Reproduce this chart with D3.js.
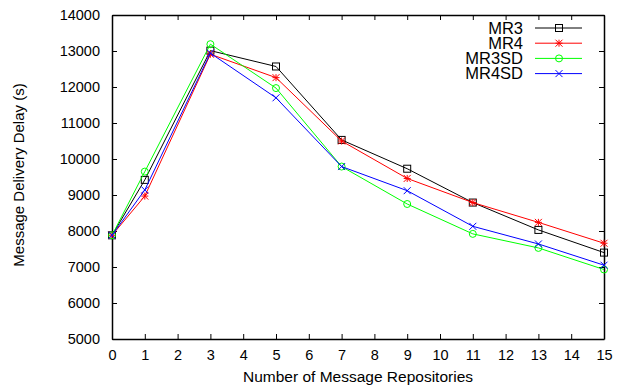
<!DOCTYPE html>
<html>
<head>
<meta charset="utf-8">
<script src="https://cdn.jsdelivr.net/npm/d3@7"></script>
<style>
  body { margin: 0; background: #fff; }
  text { font-family: "Liberation Sans", Arial, sans-serif; fill: #000; }
</style>
</head>
<body>
<div id="chart"></div>
<script>
// Data
const repositories = [0, 1, 3, 5, 7, 9, 11, 13, 15]
const mr3   = [7880, 9420, 13010, 12570, 10530, 9730, 8790, 8030, 7400]
const mr4   = [7880, 8970, 12910, 12260, 10500, 9460, 8790, 8240, 7660]
const mr3sd = [7880, 9650, 13190, 11970, 9790, 8750, 7920, 7530, 6930]
const mr4sd = [7880, 9140, 12940, 11700, 9790, 9120, 8130, 7640, 7050]
const xTicks = d3.range(0, 16)
const yTicks = d3.range(5000, 14001, 1000)

const seriesNames = ["MR3", "MR4", "MR3SD", "MR4SD"]
const seriesValues = [mr3, mr4, mr3sd, mr4sd]
const seriesColors = ["#000000", "#ff0000", "#00ff00", "#0000ff"]
const seriesMarks = ["square", "star", "circle", "cross"]

const width = 617, height = 389
const margin = { left: 112, right: 13, top: 15, bottom: 50 }

const svg = d3.select("#chart").append("svg")
  .attr("width", width).attr("height", height)

const xScale = d3.scaleLinear().domain([0, 15]).range([margin.left, width - margin.right])
const yScale = d3.scaleLinear().domain([5000, 14000]).range([height - margin.bottom, margin.top])

// Axes with inward ticks, mirrored on top and right
const tickLen = 5
svg.append("g")
  .attr("transform", `translate(0,${yScale(5000)})`)
  .call(d3.axisBottom(xScale).tickValues(xTicks).tickSizeInner(-tickLen).tickSizeOuter(0).tickPadding(11))
svg.append("g")
  .attr("transform", `translate(0,${yScale(14000)})`)
  .call(d3.axisTop(xScale).tickValues(xTicks).tickSizeInner(-tickLen).tickSizeOuter(0).tickFormat(""))
svg.append("g")
  .attr("transform", `translate(${xScale(0)},0)`)
  .call(d3.axisLeft(yScale).tickValues(yTicks).tickFormat(d3.format("d")).tickSizeInner(-tickLen).tickSizeOuter(0).tickPadding(12))
svg.append("g")
  .attr("transform", `translate(${xScale(15)},0)`)
  .call(d3.axisRight(yScale).tickValues(yTicks).tickSizeInner(-tickLen).tickSizeOuter(0).tickFormat(""))

svg.selectAll(".domain").attr("stroke", "#000").attr("stroke-width", 1.5)
svg.selectAll(".tick line").attr("stroke", "#000")
svg.selectAll(".tick text").attr("font-size", 14.5).attr("font-family", "Liberation Sans, Arial, sans-serif")

// Markers
function drawMark(g, kind, x, y, color) {
  const s = 3.5
  if (kind == "square") {
    g.append("rect").attr("x", x - s).attr("y", y - s).attr("width", 2 * s).attr("height", 2 * s)
      .attr("fill", "none").attr("stroke", color)
  } else if (kind == "circle") {
    g.append("circle").attr("cx", x).attr("cy", y).attr("r", s)
      .attr("fill", "none").attr("stroke", color)
  } else {
    let path = `M${x - s},${y - s}L${x + s},${y + s}M${x - s},${y + s}L${x + s},${y - s}`
    if (kind == "star") path += `M${x - s},${y}L${x + s},${y}M${x},${y - s}L${x},${y + s}`
    g.append("path").attr("d", path).attr("stroke", color).attr("fill", "none")
  }
}

const line = d3.line().x((d, i) => xScale(repositories[i])).y(d => yScale(d))

seriesValues.forEach((vals, k) => {
  const g = svg.append("g")
  g.append("path").datum(vals).attr("d", line)
    .attr("fill", "none").attr("stroke", seriesColors[k]).attr("stroke-width", 1)
  vals.forEach((v, i) => drawMark(g, seriesMarks[k], xScale(repositories[i]), yScale(v), seriesColors[k]))
})

// Legend
const legend = svg.append("g")
seriesNames.forEach((name, k) => {
  const y = 28 + k * 15.2
  legend.append("text").attr("x", 523).attr("y", y).attr("dy", "0.35em")
    .attr("text-anchor", "end").attr("font-size", 16.5).text(name)
  legend.append("line").attr("x1", 535).attr("x2", 582).attr("y1", y).attr("y2", y)
    .attr("stroke", seriesColors[k])
  drawMark(legend, seriesMarks[k], 559, y, seriesColors[k])
})

// Axis titles
svg.append("text").attr("x", (xScale(0) + xScale(15)) / 2).attr("y", 382)
  .attr("text-anchor", "middle").attr("font-size", 15.5).text("Number of Message Repositories")
svg.append("text")
  .attr("transform", `translate(19,175) rotate(-90)`)
  .attr("dy", "0.35em").attr("text-anchor", "middle").attr("font-size", 15)
  .text("Message Delivery Delay (s)")
</script>
</body>
</html>
